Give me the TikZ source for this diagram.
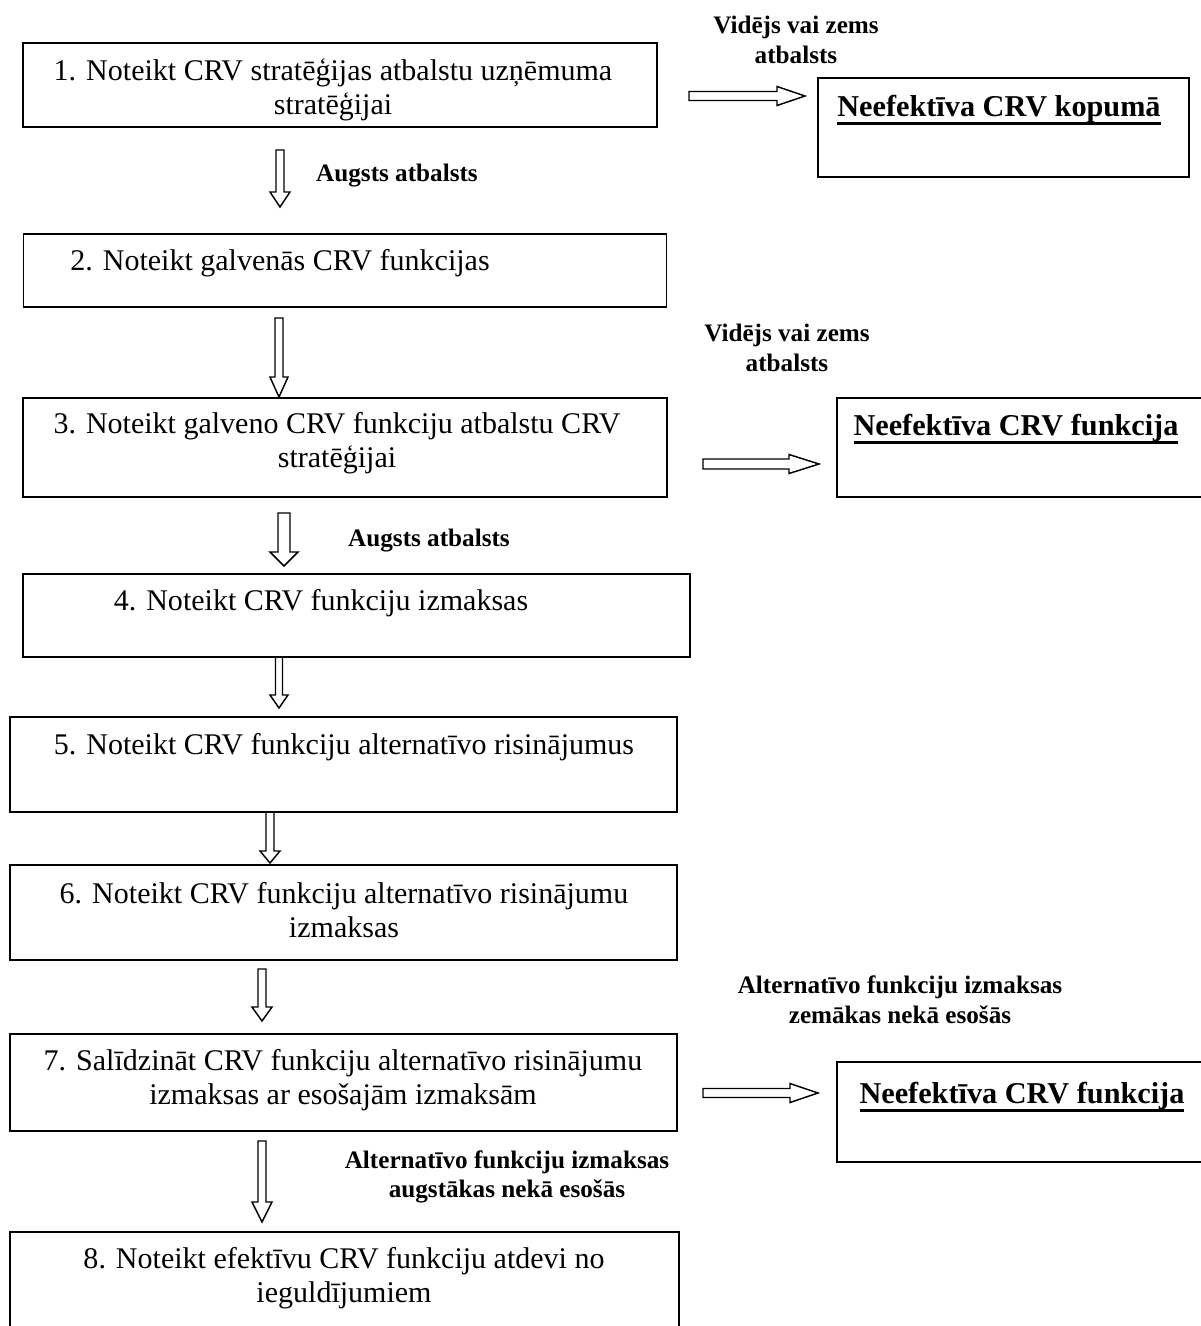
\documentclass[tikz,border=0pt]{standalone}
\usepackage{fontspec}
\setmainfont{Liberation Serif}
\newcommand{\thickul}[1]{\setbox0\hbox{#1}\rlap{\rule[-3.4pt]{\wd0}{1.2pt}}\box0}
\tikzset{>=stealth}
\usetikzlibrary{calc,positioning}
\newdimen\px \px=0.4132pt
\tikzset{
	box/.style 2 args={draw, line width=0.8pt, minimum width=#1*\px, minimum height=#2*\px, inner sep=0pt},
	txt/.style={font=\fontsize{12.4}{14.2}\selectfont, align=center, inner sep=0pt},
	lbl/.style={font=\fontsize{10.4}{12.2}\selectfont\bfseries, align=center, inner sep=0pt},
	res/.style={font=\fontsize{12.5}{14}\selectfont\bfseries, inner sep=0pt},
	downblock/.style n args={3}{line width=0.6pt, to path={($(\tikztostart)+(-#1,0)$) -- ($(\tikztotarget)+(-#1,-#3)$) -- ($(\tikztotarget)+(-#2,-#3)$) -- (\tikztotarget) -- ($(\tikztotarget)+(#2,-#3)$) -- ($(\tikztotarget)+(#1,-#3)$) -- ($(\tikztostart)+(#1,0)$) -- cycle}},
	rightblock/.style n args={3}{line width=0.6pt, to path={($(\tikztostart)+(0,-#1)$) -- ($(\tikztotarget)+(-#3,-#1)$) -- ($(\tikztotarget)+(-#3,-#2)$) -- (\tikztotarget) -- ($(\tikztotarget)+(-#3,#2)$) -- ($(\tikztotarget)+(-#3,#1)$) -- ($(\tikztostart)+(0,#1)$) -- cycle}}
}

\begin{document}
\begin{tikzpicture}[x=\px, y=-\px]
		\useasboundingbox (0,0) rectangle (1201,1326);
		% steps
		\node[box={634}{84}] (b1) at (340,85) {};
		\node[box={643}{73}] (b2) at (345,270.5) {};
		\node[box={644}{99}] (b3) at (345,447.5) {};
		\node[box={667}{83}] (b4) at (356.5,615.5) {};
		\node[box={667}{95}] (b5) at (343.5,764.5) {};
		\node[box={667}{95}] (b6) at (343.5,912.5) {};
		\node[box={667}{97}] (b7) at (343.5,1082.5) {};
		\node[box={669}{108}] (b8) at (344.5,1286) {};
		% results
		\node[box={371}{99}] (n1) at (1003.5,127.5) {};
		\node[box={378}{99}] (n2) at (1026,447.5) {};
		\node[box={378}{100}] (n3) at (1026,1112) {};
		
		\node[txt] (t1) at (333,90) {1. Noteikt CRV stratēģijas atbalstu uzņēmuma\\stratēģijai};
		\node[txt] (t2) at (280,263) {2. Noteikt galvenās CRV funkcijas};
		\node[txt] (t3) at (337,443) {3. Noteikt galveno CRV funkciju atbalstu CRV\\stratēģijai};
		\node[txt] (t4) at (321,603) {4. Noteikt CRV funkciju izmaksas};
		\node[txt] (t5) at (344,747) {5. Noteikt CRV funkciju alternatīvo risinājumus};
		\node[txt] (t6) at (344,910) {6. Noteikt CRV funkciju alternatīvo risinājumu\\izmaksas};
		\node[txt] (t7) at (343,1080) {7. Salīdzināt CRV funkciju alternatīvo risinājumu\\izmaksas ar esošajām izmaksām};
		\node[txt] (t8) at (344,1278) {8. Noteikt efektīvu CRV funkciju atdevi no\\ieguldījumiem};
		\node[res] (m1) at (999,110) {\thickul{Neefektīva CRV kopumā}};
		\node[res] (m2) at (1016,429) {\thickul{Neefektīva CRV funkcija}};
		\node[res] (m3) at (1022,1097) {\thickul{Neefektīva CRV funkcija}};
		
		\node[lbl] (l1) at (796,40) {Vidējs vai zems\\atbalsts};
		\node[lbl] (l2) at (397,176) {Augsts atbalsts};
		\node[lbl] (l3) at (787,348) {Vidējs vai zems\\atbalsts};
		\node[lbl] (l4) at (429,541) {Augsts atbalsts};
		\node[lbl] (l5) at (900,1000) {Alternatīvo funkciju izmaksas\\zemākas nekā esošās};
		\node[lbl] (l6) at (507,1177) {Alternatīvo funkciju izmaksas\\augstākas nekā esošās};
		
		\coordinate (a1) at (280,150);  \coordinate (e1) at (280,207);
		\coordinate (a2) at (279,318);  \coordinate (e2) at (279,397);
		\coordinate (a3) at (284,513);  \coordinate (e3) at (284,566);
		\coordinate (a4) at (279,657);  \coordinate (e4) at (279,708);
		\coordinate (a5) at (270,812);  \coordinate (e5) at (270,863);
		\coordinate (a6) at (262,969);  \coordinate (e6) at (262,1021);
		\coordinate (a7) at (262,1141); \coordinate (e7) at (262,1222);
		\coordinate (r1) at (689,96);   \coordinate (f1) at (805,96);
		\coordinate (r2) at (703,464);  \coordinate (f2) at (819,464);
		\coordinate (r3) at (703,1093); \coordinate (f3) at (818,1093);
		
		\draw[downblock={4}{10}{15}] (a1) to (e1);
		\draw[downblock={4}{9}{20}] (a2) to (e2);
		\draw[downblock={6}{14}{14}] (a3) to (e3);
		\draw[downblock={3.5}{9}{13}] (a4) to (e4);
		\draw[downblock={4}{10}{12}] (a5) to (e5);
		\draw[downblock={4}{10}{14}] (a6) to (e6);
		\draw[downblock={4}{10}{20}] (a7) to (e7);
		\draw[rightblock={4.5}{9.5}{28}] (r1) to (f1);
		\draw[rightblock={5}{9.5}{30}] (r2) to (f2);
		\draw[rightblock={4.5}{9.5}{28}] (r3) to (f3);
		%\draw (b7) -- (n3);
\end{tikzpicture}
\end{document}
